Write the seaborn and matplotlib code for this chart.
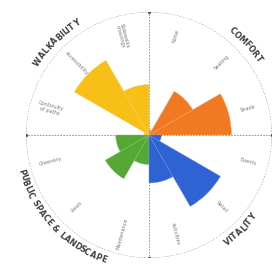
import numpy as np
import matplotlib
matplotlib.use("Agg")
import matplotlib.pyplot as plt
import seaborn as sns
from matplotlib.textpath import TextPath
from matplotlib.font_manager import FontProperties

# quadrant names (centre angle of each quadrant, degrees)
categories = ["COMFORT", "WALKABILITY", "PUBLIC SPACE & LANDSCAPE", "VITALITY"]
category_angles = [43, 135, 223, 314]

# wedge scores, 0-100, ordered by angle (30 degree steps from east, anticlockwise)
comfort_values = [67, 41, 4]
walkability_values = [41, 70, 4]
public_space_values = [27, 41, 24]
vitality_values = [39, 67, 10]

sub_labels = ["Shade", "Seating", "Noise",
              "Sidewalks\ncrossings", "Accessibility", "Continuity\nof paths",
              "Greenery", "Views", "Maintenance",
              "Activities", "Retail", "Events"]

colors = ["#f07a22", "#f8bf16", "#55a834", "#2f62d2"]

values = comfort_values + walkability_values + public_space_values + vitality_values
wedge_colors = [c for c in colors for _ in range(3)]

sns.set_theme(style="white")

fig = plt.figure(figsize=(2.75, 2.64), dpi=100)
ax = fig.add_axes([26 / 275, 6 / 264, 246 / 275, 246 / 264], projection="polar")
ax.set_ylim(0, 100)
ax.set_xticks([])
ax.set_yticks([])
ax.grid(False)
ax.spines["polar"].set_visible(False)
ax.set_facecolor("none")

theta = np.deg2rad(np.arange(15, 360, 30))
ax.bar(theta, values, width=np.deg2rad(30), color=wedge_colors,
       edgecolor=[sns.light_palette(c, 4)[2] for c in wedge_colors],
       linewidth=0.3, zorder=3)

# dashed frame: circle and the two axes
circ = np.linspace(0, 2 * np.pi, 400)
ax.plot(circ, np.full(circ.size, 100), color="#8a8a8a", lw=0.6, ls=(0, (2, 1.5)), zorder=1)
for a in [0, 90, 180, 270]:
    ax.plot([np.deg2rad(a)] * 2, [0, 100], color="#8a8a8a", lw=0.6, ls=(0, (2, 1.5)), zorder=1)
ax.plot(np.deg2rad([0, 90, 180, 270]), [100] * 4, "o", ms=1.3, color="#555555", zorder=4)

# radial sub-labels
for t, lab in zip(np.arange(15, 360, 30), sub_labels):
    rot = t if (t < 90 or t > 270) else t - 180
    ax.text(np.deg2rad(t), 83, lab, fontsize=3.6, color="#7a7a7a", rotation=rot,
            rotation_mode="anchor", ha="center", va="center", linespacing=0.9, zorder=4)

# curved category labels
px_per_pt = fig.dpi / 72
fp = FontProperties(family="DejaVu Sans", weight="bold", size=5.8)


def arc_text(text, centre_deg, r, top):
    r_px = r / 100 * 123
    widths = []
    for ch in text:
        if ch == " ":
            widths.append(2.4 * px_per_pt)
        else:
            w = TextPath((0, 0), ch, prop=fp).get_extents().width
            widths.append((w + 0.6) * px_per_pt)
    total = sum(widths)
    pos = 0
    for ch, w in zip(text, widths):
        mid = pos + w / 2
        pos += w
        off = np.rad2deg((total / 2 - mid) / r_px)
        if top:
            ang = centre_deg + off
            rot = ang - 90
        else:
            ang = centre_deg - off
            rot = ang + 90
        ax.text(np.deg2rad(ang), r, ch, fontproperties=fp, color="#3f3f3f",
                rotation=rot, rotation_mode="anchor", ha="center", va="center",
                clip_on=False)


for name, ang in zip(categories, category_angles):
    arc_text(name, ang, 108, top=(ang < 180))

fig.savefig("out.png", dpi=100, facecolor="white")
